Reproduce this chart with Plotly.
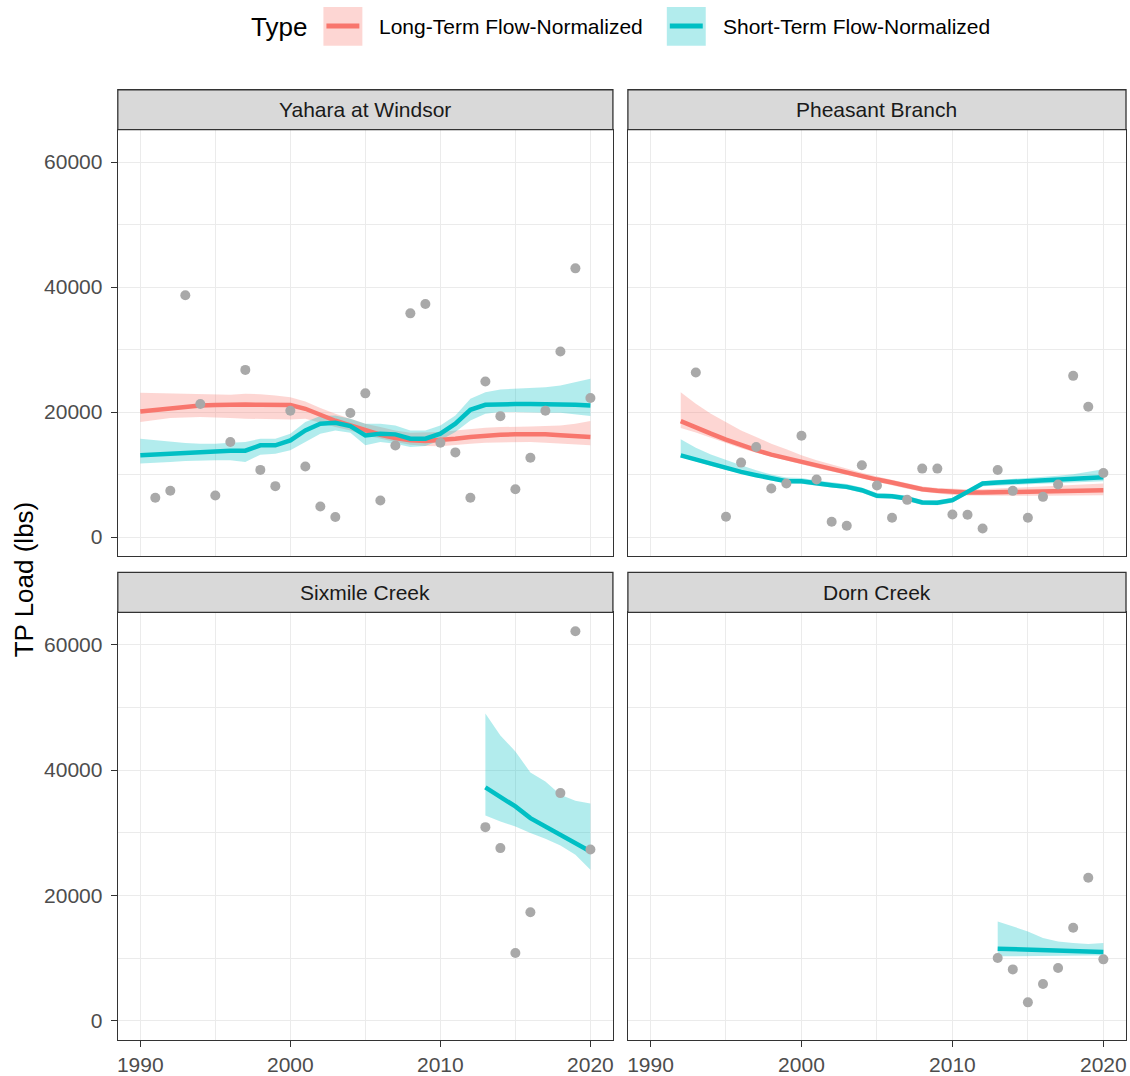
import plotly.graph_objects as go

W, H = 1130, 1076

# ---------------- data ----------------
panel_titles = ["Yahara at Windsor", "Pheasant Branch", "Sixmile Creek", "Dorn Creek"]
series_names = ["Long-Term Flow-Normalized", "Short-Term Flow-Normalized"]
x_ticks = [1990, 2000, 2010, 2020]
y_ticks = [0, 20000, 40000, 60000]

# Yahara at Windsor
yahara_years = list(range(1990, 2021))
yahara_lt = [20100, 20350, 20640, 20850, 21060, 21150, 21220, 21200, 21170, 21150, 21120,
             20530, 19570, 18620, 17870, 17070, 16380, 15850, 15480, 15370, 15480,
             15740, 16010, 16280, 16380, 16440, 16490, 16440, 16280, 16120, 16010]
yahara_lt_hi = [23085, 23030, 22925, 22820, 22765, 22765, 22765, 22925, 22870, 22660, 22393,
                21700, 20638, 19733, 18936, 18138, 17606, 17074, 16702, 16702, 16808,
                17074, 17340, 17500, 17606, 17606, 17712, 17765, 17872, 18138, 18563]
yahara_lt_lo = [18404, 18723, 19042, 19148, 19202, 19148, 19042, 18936, 18829, 18829, 18829,
                18936, 18297, 17606, 17074, 16276, 15744, 15212, 14787, 14574, 14521,
                14680, 14946, 15106, 15212, 15212, 15212, 15106, 15053, 14840, 14680]
yahara_st = [13085, 13220, 13350, 13450, 13563, 13617, 13830, 13830, 14680, 14680, 15478,
             17074, 18138, 18297, 17766, 16276, 16542, 16436, 15744, 15744, 16542,
             18138, 20372, 21170, 21276, 21276, 21276, 21276, 21223, 21170, 21063]
yahara_st_hi = [15744, 15478, 15212, 15053, 14946, 14946, 15106, 15212, 15744, 15744, 16542,
                18404, 19361, 19468, 18936, 18138, 18138, 17872, 17074, 17074, 17872,
                19468, 22127, 23191, 23616, 23723, 23829, 23989, 24255, 24787, 25318]
yahara_st_lo = [11755, 11861, 12021, 12181, 12287, 12287, 12287, 12021, 13191, 13351, 13883,
                15212, 16542, 17074, 16702, 14680, 15212, 14946, 14415, 14574, 15478,
                16808, 18670, 19734, 20000, 20000, 20000, 19893, 19893, 19680, 19361]
yahara_obs_years = list(range(1991, 2021))
yahara_obs = [6300, 7400, 38700, 21300, 6650, 15200, 26750, 10750, 8150, 20200,
              11300, 4900, 3200, 19850, 23000, 5850, 14650, 35800, 37300, 15100,
              13550, 6300, 24900, 19350, 7650, 12700, 20200, 29700, 43000, 22250]

# Pheasant Branch
pheasant_years = list(range(1992, 2021))
pheasant_lt = [18563, 17500, 16542, 15600, 14680, 13900, 13191, 12600, 12021,
               11430, 10851, 10280, 9734, 9200, 8723, 8150, 7659, 7400, 7234,
               7150, 7127, 7180, 7234, 7290, 7340, 7390, 7447, 7480, 7500]
pheasant_lt_hi = [23191, 21330, 19733, 18404, 17074, 16010, 14946, 14042, 13085,
                  12300, 11600, 10900, 10300, 9700, 9200, 8600, 8100, 7850, 7700,
                  7650, 7650, 7750, 7850, 7950, 8100, 8200, 8350, 8450, 8564]
pheasant_lt_lo = [17446, 16750, 15900, 15050, 14200, 13500, 12850, 12250, 11650,
                  11050, 10450, 9900, 9300, 8750, 8300, 7750, 7250, 6950, 6750,
                  6650, 6600, 6600, 6600, 6600, 6600, 6600, 6600, 6650, 6702]
pheasant_st = [13085, 12400, 11755, 11100, 10425, 9900, 9362, 8936, 8936,
               8564, 8298, 8032, 7500, 6596, 6543, 6170, 5532, 5479, 5904,
               7234, 8564, 8723, 8830, 8936, 9042, 9202, 9362, 9468, 9574]
pheasant_st_hi = [15638, 14300, 13200, 12300, 11489, 10700, 10000, 9550, 9450,
                  9050, 8750, 8500, 7950, 7050, 6950, 6600, 5950, 5900, 6300,
                  7650, 8950, 9150, 9300, 9450, 9600, 9800, 10050, 10400, 10851]
pheasant_st_lo = [12819, 12100, 11400, 10750, 10159, 9600, 9050, 8600, 8550,
                  8200, 7900, 7650, 7100, 6200, 6150, 5800, 5150, 5100, 5500,
                  6850, 8150, 8300, 8400, 8450, 8550, 8650, 8750, 8850, 8936]
pheasant_obs_years = [1993] + list(range(1995, 2021))
pheasant_obs = [26330, 3245, 11915, 14415, 7766, 8564, 16223, 9202, 2447, 1808,
                11489, 8245, 3085, 5957, 10957, 10957, 3617, 3564, 1383, 10744,
                7394, 3085, 6436, 8404, 25797, 20851, 10266]

# Sixmile Creek
sixmile_years = list(range(2013, 2021))
sixmile_st = [37233, 35744, 34201, 32340, 31010, 29627, 28297, 27000]
sixmile_st_hi = [49041, 45531, 42978, 39627, 38190, 36063, 35105, 34680]
sixmile_st_lo = [32765, 31808, 31010, 29946, 29042, 27978, 26489, 24095]
sixmile_obs_years = [2013, 2014, 2015, 2016, 2018, 2019, 2020]
sixmile_obs = [30900, 27550, 10800, 17300, 36330, 62180, 27340]

# Dorn Creek
dorn_years = list(range(2013, 2021))
dorn_st = [11489, 11420, 11350, 11280, 11200, 11130, 11040, 10957]
dorn_st_hi = [15851, 15053, 14255, 13191, 12659, 12393, 12234, 12393]
dorn_st_lo = [10266, 10300, 10330, 10360, 10390, 10400, 10420, 10425]
dorn_obs_years = list(range(2013, 2021))
dorn_obs = [10000, 8190, 2925, 5850, 8400, 14840, 22820, 9790]

# ---------------- style ----------------
RED = "#F8766D"
TEAL = "#00BFC4"
RED_FILL = "rgba(248,118,109,0.3)"
TEAL_FILL = "rgba(0,191,196,0.3)"
PT = "#A9A9A9"
FONT = "Liberation Sans, Arial, sans-serif"

def px_x(p):
    return p / W

def px_y(p):
    return 1 - p / H

# panel geometry (pixels)
cols = [(117, 613), (628, 1127)]
rows = [(130, 558), (614, 1043)]
strip_h = 40

fig = go.Figure()

panels = [
    ("", yahara_years, [(yahara_lt, yahara_lt_lo, yahara_lt_hi, RED, RED_FILL),
                         (yahara_st, yahara_st_lo, yahara_st_hi, TEAL, TEAL_FILL)],
     yahara_obs_years, yahara_obs),
    ("2", pheasant_years, [(pheasant_lt, pheasant_lt_lo, pheasant_lt_hi, RED, RED_FILL),
                            (pheasant_st, pheasant_st_lo, pheasant_st_hi, TEAL, TEAL_FILL)],
     pheasant_obs_years, pheasant_obs),
    ("3", sixmile_years, [(sixmile_st, sixmile_st_lo, sixmile_st_hi, TEAL, TEAL_FILL)],
     sixmile_obs_years, sixmile_obs),
    ("4", dorn_years, [(dorn_st, dorn_st_lo, dorn_st_hi, TEAL, TEAL_FILL)],
     dorn_obs_years, dorn_obs),
]

for suf, yrs, series, oy, ov in panels:
    xa, ya = "x" + suf, "y" + suf
    for fit, lo, hi, col, fill in series:
        fig.add_trace(go.Scatter(x=yrs + yrs[::-1], y=hi + lo[::-1], fill="toself",
                                 fillcolor=fill, mode="lines", line=dict(width=0),
                                 xaxis=xa, yaxis=ya, hoverinfo="skip", showlegend=False))
    for fit, lo, hi, col, fill in series:
        fig.add_trace(go.Scatter(x=yrs, y=fit, mode="lines", line=dict(color=col, width=4.5),
                                 xaxis=xa, yaxis=ya, showlegend=False))
    fig.add_trace(go.Scatter(x=oy, y=ov, mode="markers",
                             marker=dict(color=PT, size=10, line=dict(width=0)),
                             xaxis=xa, yaxis=ya, showlegend=False))

layout = dict(width=W, height=H, margin=dict(l=0, r=0, t=0, b=0),
              paper_bgcolor="white", plot_bgcolor="white", showlegend=False,
              font=dict(family=FONT))

axis_common = dict(showline=True, linecolor="#333333", linewidth=1.3, mirror=True,
                   zeroline=False, fixedrange=True, gridcolor="#EBEBEB", gridwidth=1.4,
                   ticklen=6, tickwidth=1.3, tickcolor="#333333", tickformat="d",
                   tickfont=dict(family=FONT, size=21, color="#4D4D4D"))

shapes, annotations = [], []
for i, (suf, *_rest) in enumerate(panels):
    r, c = divmod(i, 2)
    x0, x1 = cols[c]
    y0, y1 = rows[r]
    xkey = "xaxis" + suf
    ykey = "yaxis" + suf
    layout[xkey] = dict(axis_common, domain=[px_x(x0), px_x(x1)], anchor="y" + suf,
                        range=[1988.5, 2021.5], tickvals=x_ticks,
                        ticks="outside" if r == 1 else "", showticklabels=(r == 1),
                        minor=dict(tick0=1995, dtick=10, showgrid=True,
                                   gridcolor="#EBEBEB", gridwidth=0.7))
    layout[ykey] = dict(axis_common, domain=[px_y(y1), px_y(y0)], anchor="x" + suf,
                        range=[-3100, 65200], tickvals=y_ticks,
                        ticks="outside" if c == 0 else "", showticklabels=(c == 0),
                        ticklabelstandoff=4,
                        minor=dict(tick0=10000, dtick=20000, showgrid=True,
                                   gridcolor="#EBEBEB", gridwidth=0.7))
    # strip
    shapes.append(dict(type="rect", xref="paper", yref="paper",
                       x0=px_x(x0), x1=px_x(x1), y0=px_y(y0), y1=px_y(y0 - strip_h),
                       fillcolor="#D9D9D9", line=dict(color="#333333", width=1.3),
                       layer="above"))
    annotations.append(dict(xref="paper", yref="paper", x=px_x((x0 + x1) / 2),
                            y=px_y(y0 - strip_h / 2), text=panel_titles[i], showarrow=False,
                            xanchor="center", yanchor="middle",
                            font=dict(family=FONT, size=21, color="#1A1A1A")))

# axis title
annotations.append(dict(xref="paper", yref="paper", x=px_x(23), y=px_y(581),
                        text="TP Load (lbs)", showarrow=False, textangle=-90,
                        xanchor="center", yanchor="middle",
                        font=dict(family=FONT, size=26, color="black")))

# legend (ggplot style, top)
annotations.append(dict(xref="paper", yref="paper", x=px_x(248), y=px_y(27),
                        text="Type", showarrow=False, xanchor="left", yanchor="middle",
                        font=dict(family=FONT, size=26, color="black")))
legend_keys = [(323, RED, RED_FILL, 377), (667, TEAL, TEAL_FILL, 721)]
for (kx, col, fill, tx), name in zip(legend_keys, series_names):
    shapes.append(dict(type="rect", xref="paper", yref="paper",
                       x0=px_x(kx), x1=px_x(kx + 39), y0=px_y(46), y1=px_y(7),
                       fillcolor=fill, line=dict(width=0)))
    shapes.append(dict(type="line", xref="paper", yref="paper",
                       x0=px_x(kx + 3), x1=px_x(kx + 36), y0=px_y(26), y1=px_y(26),
                       line=dict(color=col, width=5)))
    annotations.append(dict(xref="paper", yref="paper", x=px_x(tx), y=px_y(27),
                            text=name, showarrow=False, xanchor="left", yanchor="middle",
                            font=dict(family=FONT, size=21, color="black")))

layout["shapes"] = shapes
layout["annotations"] = annotations
fig.update_layout(**layout)

fig.write_html("out.html", config={"displayModeBar": False},
               post_script="document.body.style.margin='0';document.body.style.overflow='hidden';")
